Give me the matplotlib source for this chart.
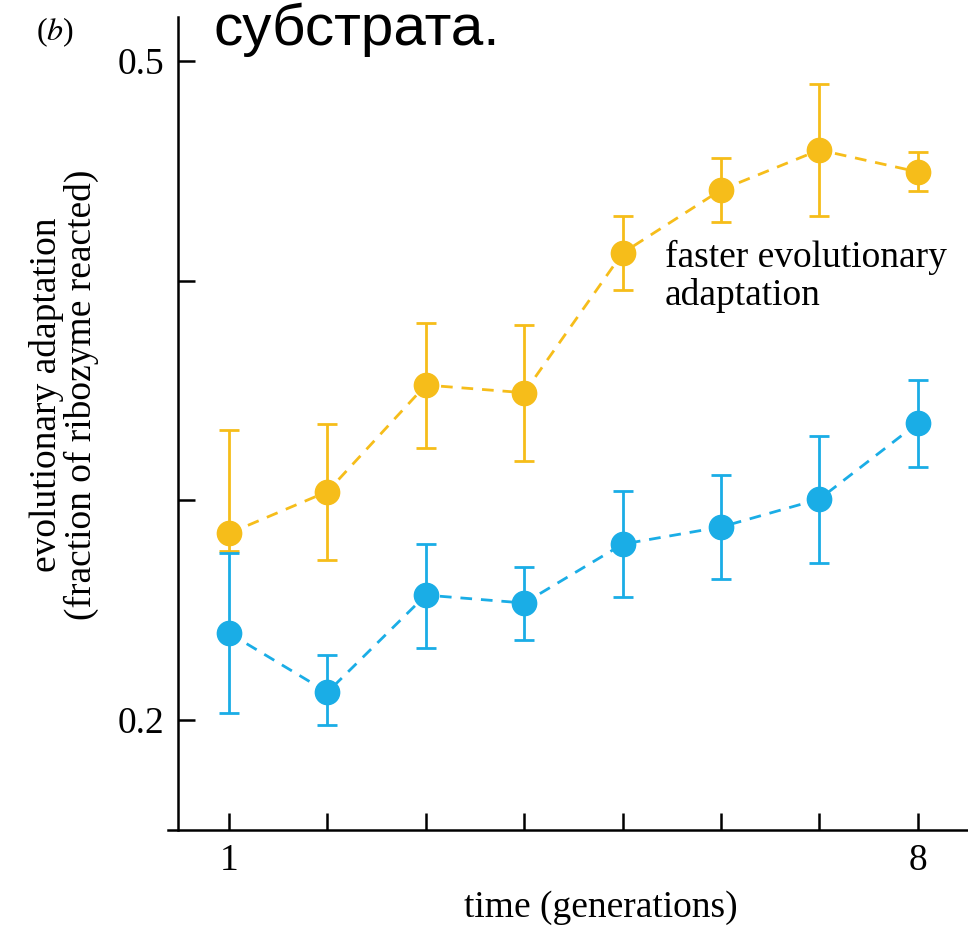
import numpy as np
import matplotlib.pyplot as plt

# generations 1..8
gen = np.arange(1, 9)

# faster-adapting lineage (yellow): mean, lower and upper ends of error bars
fast_mean = [0.285, 0.304, 0.3525, 0.349, 0.4126, 0.4413, 0.4595, 0.4495]
fast_lo = [0.277, 0.2728, 0.3238, 0.3179, 0.3957, 0.4267, 0.4294, 0.4408]
fast_hi = [0.332, 0.3347, 0.3807, 0.3798, 0.4294, 0.4558, 0.4895, 0.4586]

# slower lineage (blue)
slow_mean = [0.2396, 0.2127, 0.2569, 0.2533, 0.2801, 0.2879, 0.3006, 0.3352]
slow_lo = [0.2032, 0.1977, 0.2328, 0.2364, 0.2560, 0.2642, 0.2715, 0.3152]
slow_hi = [0.2760, 0.2296, 0.2801, 0.2696, 0.3042, 0.3115, 0.3293, 0.3548]

yellow = '#F6BD1A'
blue = '#1AADE6'
serif = 'Liberation Serif'
fs = 27

fig = plt.figure(figsize=(9.68, 9.26), dpi=100)
ax = fig.add_axes([168 / 968, 96 / 926, 800 / 968, 813 / 926])

for mean, lo, hi, col in [(fast_mean, fast_lo, fast_hi, yellow),
                          (slow_mean, slow_lo, slow_hi, blue)]:
    mean = np.array(mean)
    yerr = [mean - np.array(lo), np.array(hi) - mean]
    ax.errorbar(gen, mean, yerr=yerr, fmt='o', color=col, ms=17.5,
                elinewidth=2.0, capsize=7.5, capthick=2.0, zorder=3)
    ax.plot(gen, mean, color=col, lw=2.0, linestyle=(0, (4.2, 3.2)), zorder=2)

ax.set_xlim(0.38, 8.51)
ax.set_ylim(0.15, 0.52)
ax.spines['left'].set_position(('data', 0.482))
ax.spines['top'].set_visible(False)
ax.spines['right'].set_visible(False)
for s in ['left', 'bottom']:
    ax.spines[s].set_linewidth(1.8)

ax.set_xticks(gen)
ax.set_xticklabels(['1', '', '', '', '', '', '', '8'])
ax.set_yticks([0.2, 0.3, 0.4, 0.5])
ax.set_yticklabels(['0.2', '', '', '0.5'])
ax.tick_params(direction='in', length=12, width=1.8, labelsize=fs, pad=10)
for lab in ax.get_xticklabels() + ax.get_yticklabels():
    lab.set_fontfamily(serif)

ax.text(5.43, 0.4185, 'faster evolutionary\nadaptation', family=serif,
        fontsize=fs, ha='left', va='top', linespacing=1.1)

fig.text(601 / 968, 1 - 908 / 926, 'time (generations)', family=serif,
         fontsize=fs, ha='center', va='center')
fig.text(64 / 968, 1 - 395 / 926,
         'evolutionary adaptation\n(fraction of ribozyme reacted)',
         family=serif, fontsize=fs, rotation=90, ha='center', va='center',
         multialignment='center', linespacing=1.0)
# panel letter: upright parentheses, italic b
fig.text(36 / 968, 1 - 40 / 926, r'($\mathit{b}$)', family=serif,
         fontsize=23, ha='left', va='baseline', math_fontfamily='stix')
fig.text(213 / 968, 1 - 45 / 926, 'субстрата.', family='Liberation Sans',
         fontsize=42, ha='left', va='baseline')

fig.savefig('out.png', dpi=100)
